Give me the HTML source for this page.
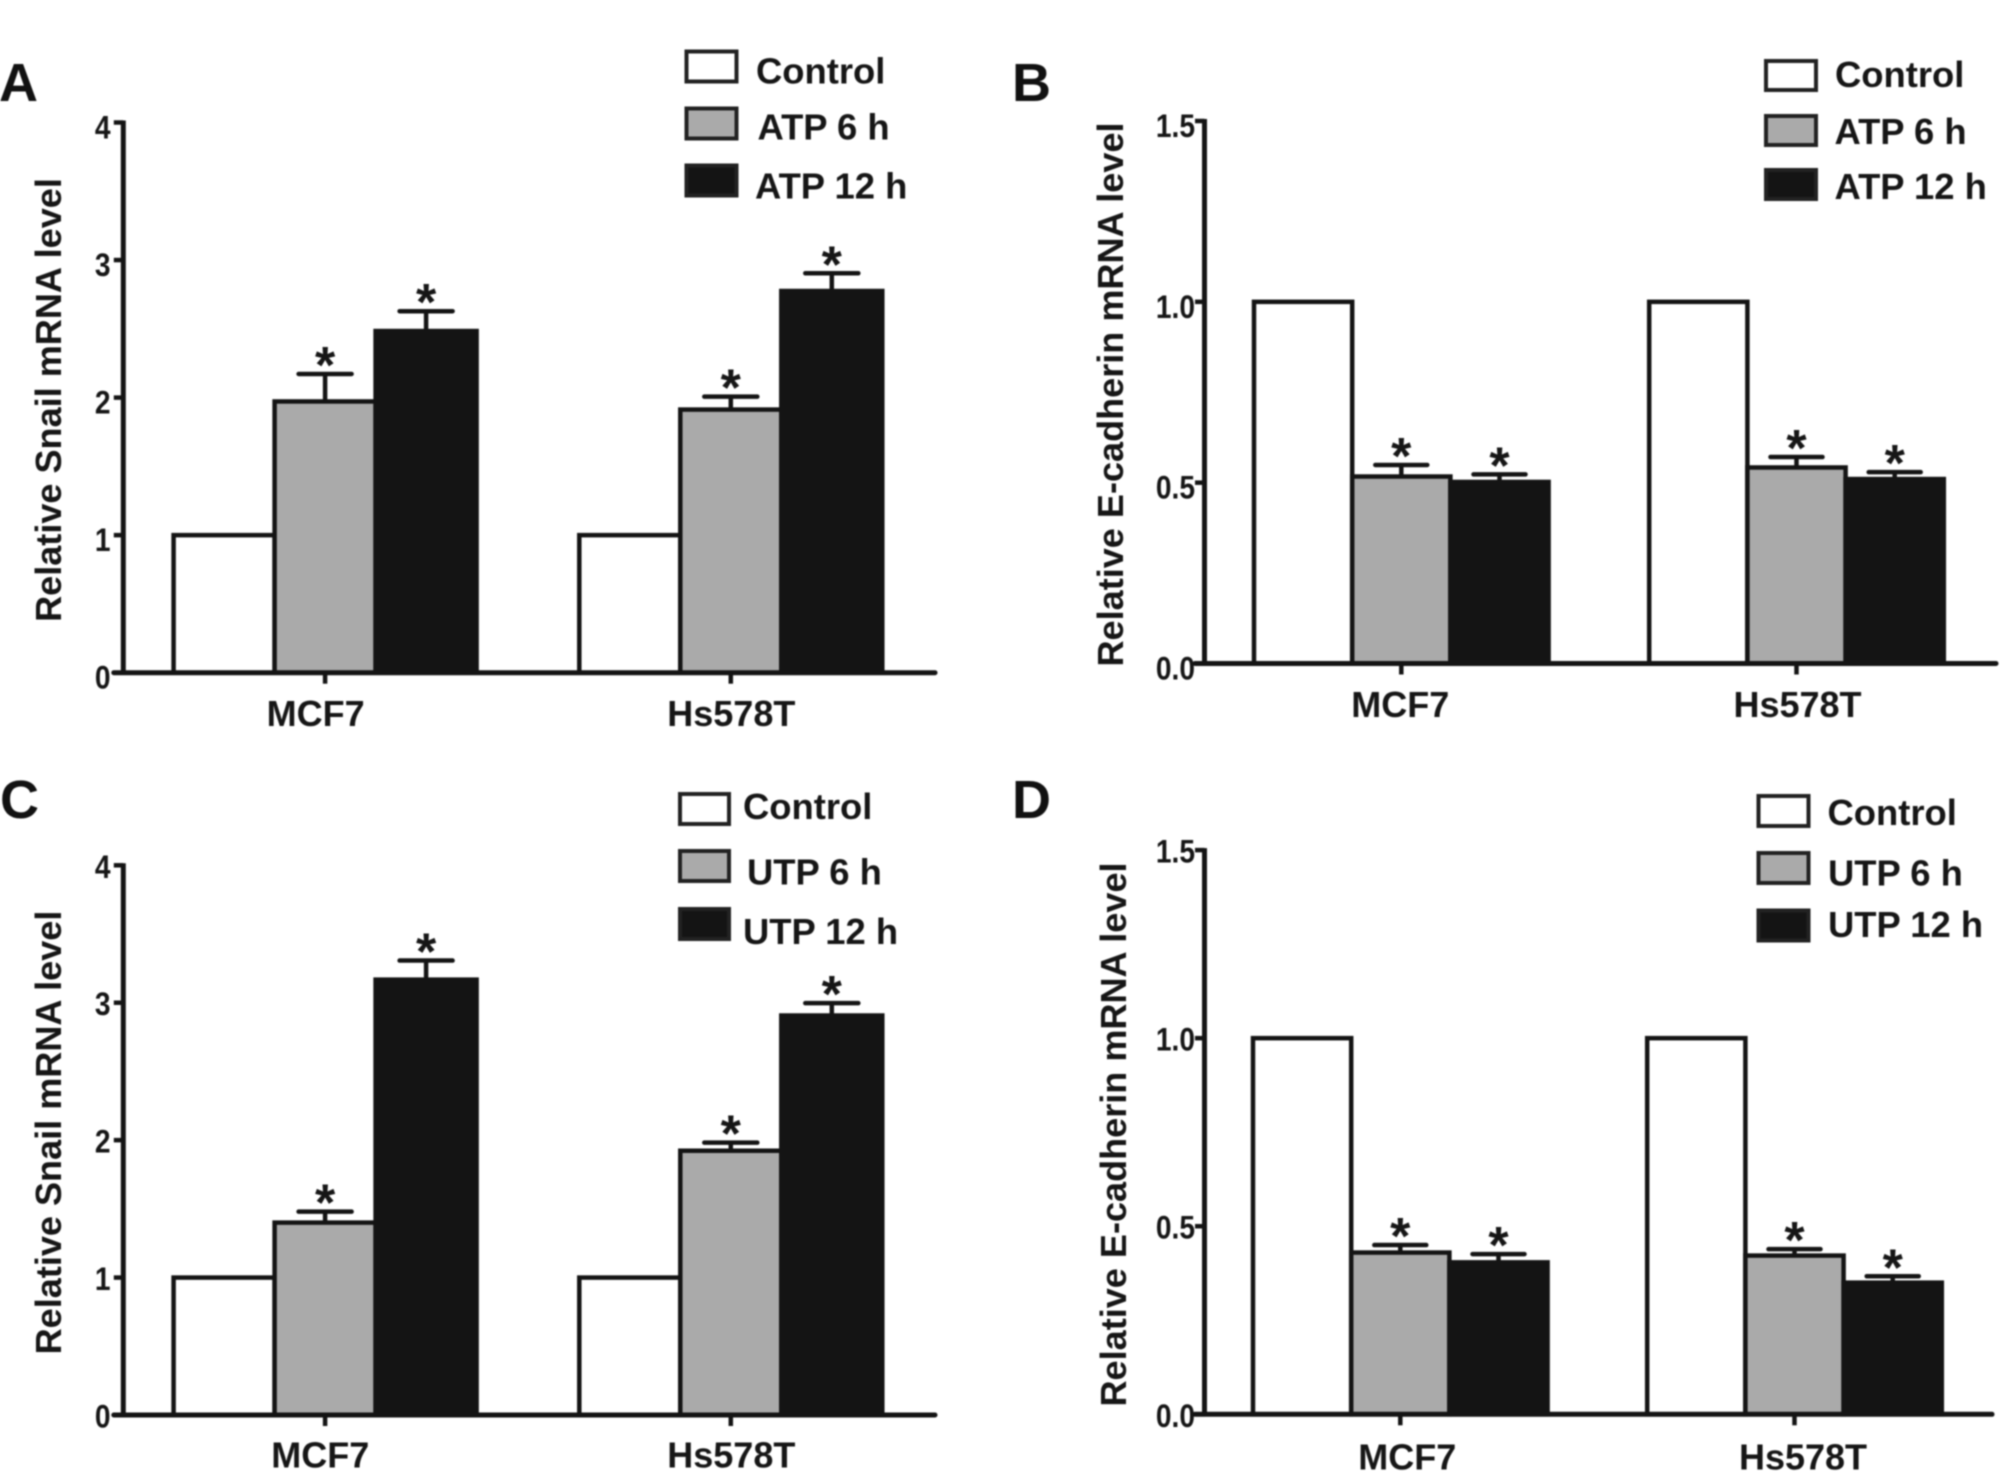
<!DOCTYPE html>
<html lang="en">
<head>
<meta charset="utf-8">
<title>Relative Snail and E-cadherin mRNA levels</title>
<style>
  html, body { margin: 0; padding: 0; background: #fff; }
  body { width: 2008px; height: 1484px; overflow: hidden; }
  svg { display: block; filter: blur(0.8px); }
  text { font-family: "Liberation Sans", sans-serif; font-weight: bold; fill: #161616; }
  .legend-text { font-size: 36.4px; }
  .axis-title { font-size: 36.1px; }
  .category { font-size: 36px; }
  .panel-letter { font-size: 54px; fill: #111; }
  .tick { font-size: 32px; text-anchor: end; }
  .star { font-size: 52px; text-anchor: middle; }
  .swatch { stroke: #222; stroke-width: 4; }
</style>
</head>
<body>
<svg id="fig" xmlns="http://www.w3.org/2000/svg" width="2008" height="1484" viewBox="0 0 2008 1484">
  <rect width="2008" height="1484" fill="#fff"/>

  <text class="panel-letter" x="-1" y="101">A</text>
  <text class="panel-letter" x="1012" y="101">B</text>
  <text class="panel-letter" x="0" y="818">C</text>
  <text class="panel-letter" x="1012" y="818">D</text>

  <text class="axis-title" transform="translate(61 400) rotate(-90)" text-anchor="middle">Relative Snail mRNA level</text>
  <text class="axis-title" transform="translate(1123 394.5) rotate(-90)" text-anchor="middle">Relative E-cadherin mRNA level</text>
  <text class="axis-title" transform="translate(61 1132.5) rotate(-90)" text-anchor="middle">Relative Snail mRNA level</text>
  <text class="axis-title" transform="translate(1126 1134.5) rotate(-90)" text-anchor="middle">Relative E-cadherin mRNA level</text>

  <g>
    <rect class="swatch" x="686.5" y="51.5" width="50" height="30" fill="#fff"/>
    <rect class="swatch" x="686.5" y="108.5" width="50" height="30" fill="#aaa"/>
    <rect class="swatch" x="686.5" y="165.5" width="50" height="30" fill="#141414"/>
    <text class="legend-text" x="756" y="83.5">Control</text>
    <text class="legend-text" x="757.5" y="139.5">ATP 6 h</text>
    <text class="legend-text" x="755" y="198.5">ATP 12 h</text>
  </g>
  <g>
    <rect class="swatch" x="1766" y="61" width="50" height="29" fill="#fff"/>
    <rect class="swatch" x="1766" y="116" width="50" height="29" fill="#aaa"/>
    <rect class="swatch" x="1766" y="170" width="50" height="29" fill="#141414"/>
    <text class="legend-text" x="1835" y="87">Control</text>
    <text class="legend-text" x="1834.5" y="144">ATP 6 h</text>
    <text class="legend-text" x="1834.5" y="199">ATP 12 h</text>
  </g>
  <g>
    <rect class="swatch" x="680" y="794" width="49" height="30" fill="#fff"/>
    <rect class="swatch" x="680" y="851" width="49" height="30" fill="#aaa"/>
    <rect class="swatch" x="680" y="909" width="49" height="30" fill="#141414"/>
    <text class="legend-text" x="743" y="819">Control</text>
    <text class="legend-text" x="747" y="884.5">UTP 6 h</text>
    <text class="legend-text" x="743" y="944">UTP 12 h</text>
  </g>
  <g>
    <rect class="swatch" x="1758.5" y="796" width="50" height="30" fill="#fff"/>
    <rect class="swatch" x="1758.5" y="853" width="50" height="30" fill="#aaa"/>
    <rect class="swatch" x="1758.5" y="910.5" width="50" height="30" fill="#141414"/>
    <text class="legend-text" x="1827.5" y="825">Control</text>
    <text class="legend-text" x="1828" y="885.5">UTP 6 h</text>
    <text class="legend-text" x="1828" y="937">UTP 12 h</text>
  </g>
</svg>

<script>
// Shared data
const categories = ['MCF7', 'Hs578T'];
const snailTicks = ['0', '1', '2', '3', '4'];
const cadherinTicks = ['0.0', '0.5', '1.0', '1.5'];
const seriesKeys = ['control', 'six-hour', 'twelve-hour'];

// Panel A: Snail, ATP
const aControl = [1, 1];
const aSixHour = [1.972, 1.913];
const aTwelveHour = [2.484, 2.775];
const aSixHourError = [0.20, 0.094];
const aTwelveHourError = [0.144, 0.129];

// Panel B: E-cadherin, ATP
const bControl = [1, 1];
const bSixHour = [0.517, 0.542];
const bTwelveHour = [0.502, 0.51];
const bSixHourError = [0.032, 0.029];
const bTwelveHourError = [0.021, 0.019];

// Panel C: Snail, UTP
const cControl = [1, 1];
const cSixHour = [1.40, 1.923];
const cTwelveHour = [3.168, 2.907];
const cSixHourError = [0.08, 0.059];
const cTwelveHourError = [0.139, 0.09];

// Panel D: E-cadherin, UTP
const dControl = [1, 1];
const dSixHour = [0.43, 0.422];
const dTwelveHour = [0.404, 0.35];
const dSixHourError = [0.02, 0.017];
const dTwelveHourError = [0.022, 0.017];

const NS = 'http://www.w3.org/2000/svg';
const svg = document.getElementById('fig');
const INK = '#141414';
const FILLS = ['#ffffff', '#aaaaaa', '#141414'];

function make(tag, parent, attrs, text) {
  const el = document.createElementNS(NS, tag);
  for (const k in attrs) el.setAttribute(k, attrs[k]);
  if (text !== undefined) el.textContent = text;
  parent.appendChild(el);
  return el;
}

function drawPanel(id, p, tickLabels, yMax, control, six, twelve, sixErr, twelveErr) {
  const g = make('g', svg, {});
  
  

  const yScale = v => p.base - (p.base - p.top) * v / yMax;
  const barLeft = (group, s) => p.left + p.step * group + p.barW * s;
  const series = [control, six, twelve];
  const errors = [null, sixErr, twelveErr];

  // error bars: stems sit behind the bars
  categories.forEach((cat, c) => {
    [1, 2].forEach(s => {
      const cx = barLeft(c, s) + p.barW / 2;
      const topY = yScale(series[s][c] + errors[s][c]);
      const stem = make('line', g, { x1: cx, x2: cx, y1: yScale(series[s][c]), y2: topY, stroke: INK, 'stroke-width': 4.5 });
      
      
      const cap = make('line', g, { x1: cx - p.cap / 2, x2: cx + p.cap / 2, y1: topY, y2: topY, stroke: INK, 'stroke-width': 4.5, 'stroke-linecap': 'round' });
      
      
      const star = make('text', g, { class: 'star', x: cx, y: topY + 9 }, '*');
      
      
    });
  });

  // bars
  categories.forEach((cat, c) => {
    series.forEach((values, s) => {
      const y = yScale(values[c]);
      const bar = make('rect', g, { x: barLeft(c, s), y: y, width: p.barW, height: p.base - y, fill: FILLS[s], stroke: INK, 'stroke-width': 4.5 });
      
      
    });
  });

  // y axis
  const yAxis = make('line', g, { x1: p.axisX, x2: p.axisX, y1: p.top - 2, y2: p.base + 2, stroke: INK, 'stroke-width': 5 });
  
  
  tickLabels.forEach(label => {
    const y = yScale(parseFloat(label));
    const mark = make('line', g, { x1: p.axisX - 9.5, x2: p.axisX, y1: y, y2: y, stroke: INK, 'stroke-width': 4.5 });
    
    
    const t = make('text', g, { class: 'tick', transform: 'translate(' + p.tickLabelX + ' ' + (y + p.tickLabelDy) + ') scale(0.88 1)' }, label);
    
    
  });

  // x axis
  const xAxis = make('line', g, { x1: p.axisX - 9.5, x2: p.axisEnd, y1: p.base, y2: p.base, stroke: INK, 'stroke-width': 5, 'stroke-linecap': 'round' });
  
  
  categories.forEach((cat, c) => {
    const cx = barLeft(c, 1) + p.barW / 2;
    const mark = make('line', g, { x1: cx, x2: cx, y1: p.base, y2: p.base + 11, stroke: INK, 'stroke-width': 4.5 });
    
    
    const t = make('text', g, { class: 'category', 'text-anchor': 'middle', x: cx + (c === 0 ? p.labelShiftFirst : p.labelShiftSecond), y: p.labelY }, cat);
    
    
  });
}

drawPanel('a',
  { left: 173.6, barW: 101, step: 405.7, cap: 53, axisX: 123.3, axisEnd: 935, top: 122.5, base: 672.7, tickLabelX: 110.5, tickLabelDy: 16, labelY: 726, labelShiftFirst: -9.5, labelShiftSecond: 0.5 },
  snailTicks, 4, aControl, aSixHour, aTwelveHour, aSixHourError, aTwelveHourError);

drawPanel('b',
  { left: 1254, barW: 98.2, step: 395.2, cap: 52, axisX: 1204.5, axisEnd: 1996, top: 121, base: 663.5, tickLabelX: 1195, tickLabelDy: 16, labelY: 717, labelShiftFirst: -1, labelShiftSecond: 1 },
  cadherinTicks, 1.5, bControl, bSixHour, bTwelveHour, bSixHourError, bTwelveHourError);

drawPanel('c',
  { left: 173.6, barW: 101, step: 405.7, cap: 53, axisX: 123.3, axisEnd: 935, top: 865.3, base: 1415, tickLabelX: 110.5, tickLabelDy: 12.5, labelY: 1467.7, labelShiftFirst: -4.8, labelShiftSecond: 0.5 },
  snailTicks, 4, cControl, cSixHour, cTwelveHour, cSixHourError, cTwelveHourError);

drawPanel('d',
  { left: 1253, barW: 98.2, step: 394.2, cap: 52, axisX: 1204.5, axisEnd: 1992, top: 850.1, base: 1414.3, tickLabelX: 1195, tickLabelDy: 12.5, labelY: 1469.5, labelShiftFirst: 7, labelShiftSecond: 8.5 },
  cadherinTicks, 1.5, dControl, dSixHour, dTwelveHour, dSixHourError, dTwelveHourError);
</script>
</body>
</html>
